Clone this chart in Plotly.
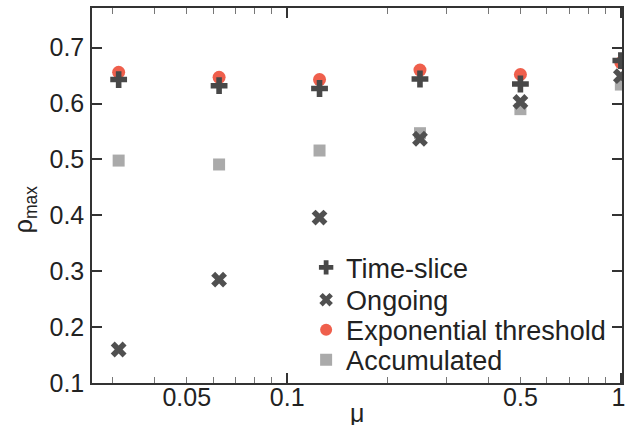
import math
import plotly.graph_objects as go

mu = [1/32, 1/16, 1/8, 1/4, 1/2, 1]
time_slice = [0.643, 0.632, 0.627, 0.644, 0.635, 0.677]
ongoing = [0.160, 0.285, 0.396, 0.537, 0.603, 0.649]
exp_threshold = [0.656, 0.647, 0.643, 0.660, 0.652, 0.673]
accumulated = [0.498, 0.491, 0.516, 0.547, 0.590, 0.634]

x_tickvals = [0.05, 0.1, 0.5, 1]
x_ticktext = ["0.05", "0.1", "0.5", "1\u2009"]
x_long_ticks = [0.1, 1]
x_minor_ticks = [0.03, 0.04, 0.06, 0.07, 0.08, 0.09, 0.2, 0.3, 0.4, 0.6, 0.7, 0.8, 0.9]
y_tickvals = [0.1, 0.2, 0.3, 0.4, 0.5, 0.6, 0.7]
y_ticktext = ["0.1", "0.2", "0.3", "0.4", "0.5", "0.6", "0.7"]

FONT = "Liberation Sans, Arial, sans-serif"
AX = "#333333"
TXT = "#222222"
xrange_ = [math.log10(0.026), math.log10(1.008)]

fig = go.Figure()
fig.add_trace(go.Scatter(x=mu, y=accumulated, mode="markers", name="Accumulated",
                         legend="legend4",
                         marker=dict(symbol="square", size=12, color="#aaaaaa")))
fig.add_trace(go.Scatter(x=mu, y=exp_threshold, mode="markers", name="Exponential threshold",
                         legend="legend3",
                         marker=dict(symbol="circle", size=13, color="#ef5f4c")))
fig.add_trace(go.Scatter(x=mu, y=time_slice, mode="markers", name="Time-slice",
                         legend="legend",
                         marker=dict(symbol="cross", size=14, color="#484848")))
fig.add_trace(go.Scatter(x=mu, y=ongoing, mode="markers", name="Ongoing",
                         legend="legend2",
                         marker=dict(symbol="x", size=14, color="#505050")))
# empty trace carrying the overlay axis used for the long ticks at 0.1 and 1
fig.add_trace(go.Scatter(x=[], y=[], xaxis="x2", showlegend=False, hoverinfo="skip"))

def leg(ypos):
    return dict(x=0.404, y=ypos, xanchor="left", yanchor="middle",
                bgcolor="rgba(0,0,0,0)", font=dict(size=27, color=TXT),
                itemsizing="constant")

fig.update_layout(
    width=627, height=425,
    margin=dict(l=92, r=5, t=8, b=42),
    paper_bgcolor="white", plot_bgcolor="white",
    font=dict(family=FONT, size=24, color=TXT),
    showlegend=True,
    legend=leg(0.307),
    legend2=leg(0.221),
    legend3=leg(0.141),
    legend4=leg(0.061),
    xaxis=dict(type="log", range=xrange_, tickmode="array",
               tickvals=x_tickvals, ticktext=x_ticktext, automargin=False,
               ticks="inside", ticklen=6, tickwidth=1, tickcolor="#777777",
               showline=True, linecolor=AX, linewidth=1.5, mirror="ticks",
               showgrid=False, zeroline=False, ticklabeloverflow="allow",
               ticklabelstandoff=-9,
               minor=dict(tickvals=x_minor_ticks, ticks="inside", ticklen=6,
                          tickcolor="#777777", tickwidth=1, showgrid=False),
               tickfont=dict(size=25, color=TXT)),
    xaxis2=dict(type="log", range=xrange_, overlaying="x", side="bottom",
                tickmode="array", tickvals=x_long_ticks, showticklabels=False,
                ticks="inside", ticklen=10, tickwidth=1.5, tickcolor=AX,
                showline=False, mirror="ticks", showgrid=False, zeroline=False,
                automargin=False),
    yaxis=dict(range=[0.1, 0.771], tickmode="array", tickvals=y_tickvals,
               ticktext=y_ticktext, automargin=False,
               ticks="inside", ticklen=10, tickwidth=1.5, tickcolor=AX,
               showline=True, linecolor=AX, linewidth=1.5, mirror="ticks",
               showgrid=False, zeroline=False, tickfont=dict(size=25, color=TXT),
               ticklabelstandoff=1),
    annotations=[
        dict(text="μ", xref="paper", yref="paper", x=0.5, y=0,
             xanchor="center", yanchor="top", yshift=-14, showarrow=False,
             font=dict(size=25, color=TXT)),
        dict(text="ρ<sub>max</sub>", xref="paper", yref="paper", x=-0.126, y=0.464,
             xanchor="center", yanchor="middle", textangle=-90, showarrow=False,
             font=dict(size=25, color=TXT)),
    ],
)

fig.write_html("out.html", config={"displayModeBar": False},
               post_script="document.body.style.margin='0';document.body.style.overflow='hidden';")
